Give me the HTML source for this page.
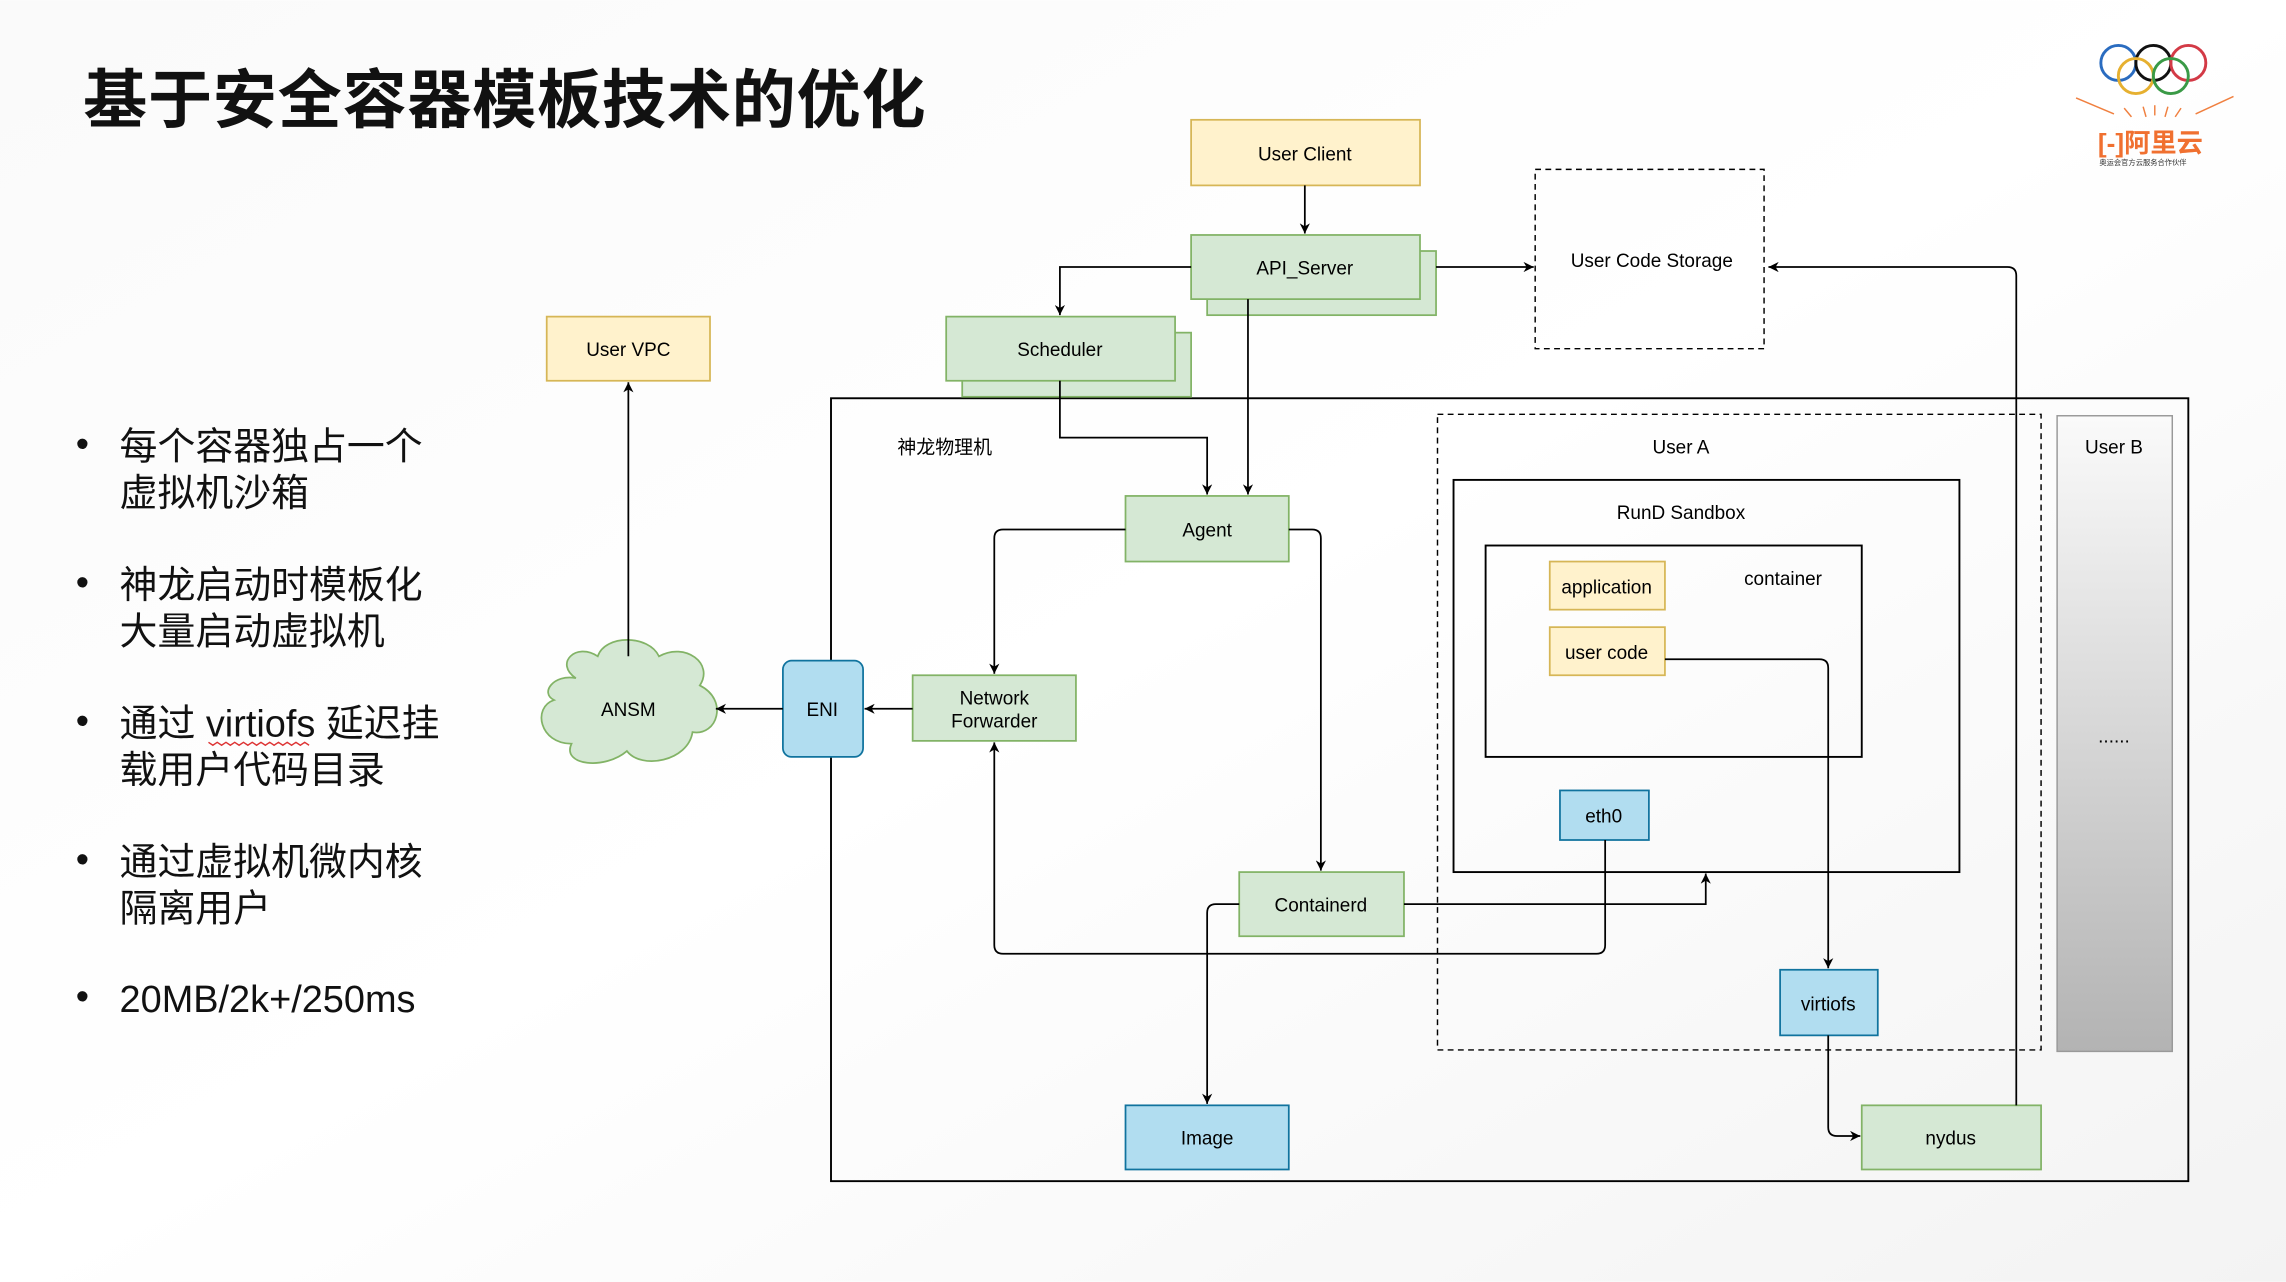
<!DOCTYPE html>
<html><head><meta charset="utf-8"><style>
html,body{margin:0;padding:0;background:#fff;}
svg{display:block;}
text{font-family:"Liberation Sans","Noto Sans CJK SC",sans-serif;}
</style></head><body>
<svg width="2286" height="1282" viewBox="0 0 1568 879" xmlns="http://www.w3.org/2000/svg">
<defs>
<linearGradient id="bg" x1="0" y1="0" x2="1" y2="1">
<stop offset="0" stop-color="#fafafa"/><stop offset="0.5" stop-color="#ffffff"/><stop offset="1" stop-color="#f3f3f3"/></linearGradient>
<linearGradient id="ub" x1="0" y1="0" x2="0" y2="1">
<stop offset="0" stop-color="#fafafa"/><stop offset="1" stop-color="#b3b3b3"/></linearGradient>
<marker id="a" viewBox="0 0 10 10" refX="10" refY="5" markerWidth="7" markerHeight="7" orient="auto-start-reverse" markerUnits="userSpaceOnUse">
<path d="M0,0 L10,5 L0,10 L3,5 z" fill="#000"/></marker>
</defs>
<rect width="1568" height="879" fill="url(#bg)"/>

<text x="57" y="84" font-size="44" font-weight="bold" fill="#111" letter-spacing="0.5">基于安全容器模板技术的优化</text>

<g font-size="26" fill="#111">
<text x="52" y="313">•</text><text x="82" y="315">每个容器独占一个</text><text x="82" y="347">虚拟机沙箱</text>
<text x="52" y="408">•</text><text x="82" y="410">神龙启动时模板化</text><text x="82" y="442">大量启动虚拟机</text>
<text x="52" y="503">•</text><text x="82" y="505">通过 virtiofs 延迟挂</text><text x="82" y="537">载用户代码目录</text>
<text x="52" y="598">•</text><text x="82" y="600">通过虚拟机微内核</text><text x="82" y="632">隔离用户</text>
<text x="52" y="692">•</text><text x="82" y="694">20MB/2k+/250ms</text>
</g>
<path d="M143,509 l3,2 3,-2 3,2 3,-2 3,2 3,-2 3,2 3,-2 3,2 3,-2 3,2 3,-2 3,2 3,-2 3,2 3,-2 3,2 3,-2 3,2 3,-2 3,2 3,-2 3,2" fill="none" stroke="#d33" stroke-width="1"/>

<!-- logo -->
<g fill="none" stroke-width="2">
<circle cx="1453" cy="43" r="12" stroke="#2a6cc0"/>
<circle cx="1477" cy="43" r="12" stroke="#111"/>
<circle cx="1501" cy="43" r="12" stroke="#d33a46"/>
<circle cx="1465" cy="52" r="12" stroke="#e6b030"/>
<circle cx="1489" cy="52" r="12" stroke="#3a9a46"/>
</g>
<g stroke="#f08040" stroke-width="1">
<line x1="1424" y1="67" x2="1450" y2="78"/><line x1="1532" y1="66" x2="1506" y2="78"/>
<line x1="1457" y1="74" x2="1462" y2="80"/><line x1="1470" y1="73" x2="1472" y2="80"/><line x1="1478" y1="72" x2="1478" y2="79"/>
<line x1="1487" y1="73" x2="1485" y2="80"/><line x1="1496" y1="74" x2="1492" y2="80"/>
</g>
<text x="1439" y="104" font-size="18" font-weight="bold" fill="#f07030">[-]阿里云</text>
<text x="1440" y="113" font-size="5" fill="#333">奥运会官方云服务合作伙伴</text>

<g fill="none" stroke="#000" stroke-width="1.3">
<rect x="570" y="273" width="931" height="537"/>
<rect x="997" y="329" width="347" height="269"/>
<rect x="1019" y="374" width="258" height="145"/>
</g>
<rect x="986" y="284" width="414" height="436" fill="none" stroke="#000" stroke-dasharray="4,3"/>
<rect x="1053" y="116" width="157" height="123" fill="none" stroke="#000" stroke-dasharray="4,3"/>
<rect x="1411" y="285" width="79" height="436" fill="url(#ub)" stroke="#999"/>

<g stroke-width="1.2">
<rect x="817" y="82" width="157" height="45" fill="#fff2cc" stroke="#d6b656"/>
<rect x="375" y="217" width="112" height="44" fill="#fff2cc" stroke="#d6b656"/>
<rect x="1063" y="385" width="79" height="33" fill="#fff2cc" stroke="#d6b656"/>
<rect x="1063" y="430" width="79" height="33" fill="#fff2cc" stroke="#d6b656"/>
<rect x="828" y="172" width="157" height="44" fill="#d5e8d4" stroke="#82b366"/>
<rect x="817" y="161" width="157" height="44" fill="#d5e8d4" stroke="#82b366"/>
<rect x="660" y="228" width="157" height="44" fill="#d5e8d4" stroke="#82b366"/>
<rect x="649" y="217" width="157" height="44" fill="#d5e8d4" stroke="#82b366"/>
<rect x="772" y="340" width="112" height="45" fill="#d5e8d4" stroke="#82b366"/>
<rect x="626" y="463" width="112" height="45" fill="#d5e8d4" stroke="#82b366"/>
<rect x="850" y="598" width="113" height="44" fill="#d5e8d4" stroke="#82b366"/>
<rect x="1277" y="758" width="123" height="44" fill="#d5e8d4" stroke="#82b366"/>
<rect x="537" y="453" width="55" height="66" rx="6" fill="#b1ddf0" stroke="#10739e"/>
<rect x="1070" y="542" width="61" height="34" fill="#b1ddf0" stroke="#10739e"/>
<rect x="1221" y="665" width="67" height="45" fill="#b1ddf0" stroke="#10739e"/>
<rect x="772" y="758" width="112" height="44" fill="#b1ddf0" stroke="#10739e"/>
</g>
<path d="M395,465 C380,455 395,440 410,450 C415,435 445,435 452,450 C470,440 490,455 480,470 C500,480 492,505 475,502 C472,522 440,528 430,515 C415,528 385,525 392,510 C370,510 365,485 380,480 C370,475 380,462 395,465 Z" fill="#d5e8d4" stroke="#82b366" stroke-width="1.2"/>

<g font-size="13" fill="#000" text-anchor="middle">
<text x="895" y="110">User Client</text>
<text x="895" y="188">API_Server</text>
<text x="1133" y="183">User Code Storage</text>
<text x="727" y="244">Scheduler</text>
<text x="431" y="244">User VPC</text>
<text x="648" y="311">神龙物理机</text>
<text x="1153" y="311">User A</text>
<text x="1450" y="311">User B</text>
<text x="1153" y="356">RunD Sandbox</text>
<text x="1223" y="401">container</text>
<text x="1102" y="407">application</text>
<text x="1102" y="452">user code</text>
<text x="1100" y="564">eth0</text>
<text x="828" y="368">Agent</text>
<text x="682" y="483">Network</text><text x="682" y="499">Forwarder</text>
<text x="564" y="491">ENI</text>
<text x="431" y="491">ANSM</text>
<text x="906" y="625">Containerd</text>
<text x="1254" y="693">virtiofs</text>
<text x="828" y="785">Image</text>
<text x="1338" y="785">nydus</text>
<text x="1450" y="509">......</text>
</g>

<g fill="none" stroke="#000" stroke-width="1.2" marker-end="url(#a)">
<path d="M895,127 V160"/>
<path d="M817,183 H727 V216"/>
<path d="M985,183 H1052"/>
<path d="M856,205 V339"/>
<path d="M727,261 V300 H828 V339"/>
<path d="M772,363 H688 Q682,363 682,369 V462"/>
<path d="M884,363 H900 Q906,363 906,369 V597"/>
<path d="M626,486 H593"/>
<path d="M537,486 H491"/>
<path d="M431,450 V262"/>
<path d="M1101,576 V648 Q1101,654 1095,654 H688 Q682,654 682,648 V509"/>
<path d="M963,620 H1170 V599"/>
<path d="M850,620 H834 Q828,620 828,626 V757"/>
<path d="M1142,452 H1248 Q1254,452 1254,458 V664"/>
<path d="M1254,710 V773 Q1254,779 1260,779 H1276"/>
<path d="M1383,758 V189 Q1383,183 1377,183 H1213"/>
</g>
</svg>
</body></html>
